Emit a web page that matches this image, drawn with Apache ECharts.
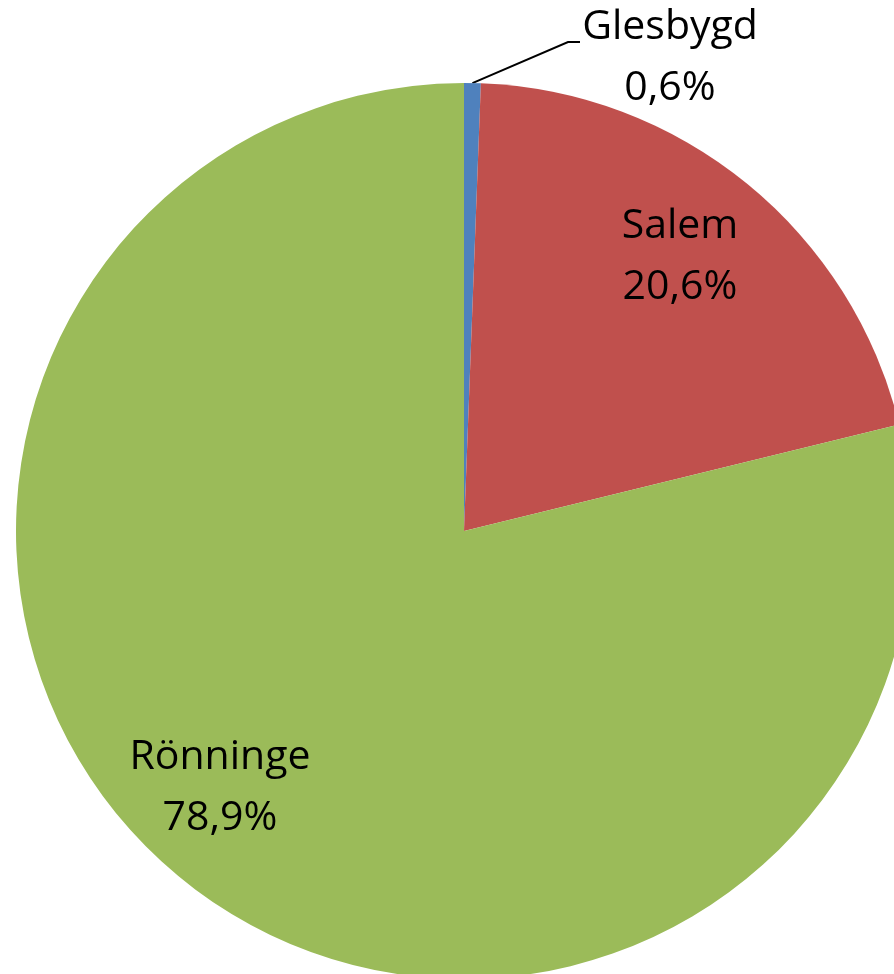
<!DOCTYPE html>
<html>
<head>
<meta charset="utf-8">
<script src="https://cdn.jsdelivr.net/npm/echarts@6/dist/echarts.min.js"></script>
<style>html,body{margin:0;padding:0;background:#fff;}#c{width:894px;height:974px;}</style>
</head>
<body>
<div id="c"></div>
<script>
var categories = ['Glesbygd', 'Salem', 'Rönninge'];
var values = [0.6, 20.6, 78.9];
var percentLabels = ['0,6%', '20,6%', '78,9%'];
var colors = ['#4F81BD', '#C0504D', '#9BBB59'];

var cx = 464, cy = 531, R = 448;
// label anchor positions (layout)
var labelPos = [[670, 58], [680, 257], [220, 788]];

var chart = echarts.init(document.getElementById('c'));
var data = categories.map(function (c, i) {
  return {
    name: c,
    value: values[i],
    itemStyle: { color: colors[i] },
    label: { position: i === 0 ? 'outside' : 'inside' },
    labelLine: { show: i === 0 }
  };
});
chart.setOption({
  animation: false,
  series: [{
    type: 'pie',
    center: [cx, cy],
    radius: [0, R],
    startAngle: 90,
    clockwise: true,
    avoidLabelOverlap: false,
    data: data,
    label: {
      show: true,
      color: '#000',
      fontFamily: 'Open Sans',
      fontSize: 41,
      lineHeight: 61,
      align: 'center',
      formatter: function (p) { return p.name + '\n' + percentLabels[p.dataIndex]; }
    },
    labelLine: {
      show: true,
      lineStyle: { color: '#000', width: 2 },
      length: 10, length2: 10, smooth: false
    },
    labelLayout: function (p) {
      var i = p.dataIndex;
      var res = { x: labelPos[i][0], y: labelPos[i][1], align: 'center', verticalAlign: 'middle', hideOverlap: false, moveOverlap: false };
      if (i === 0) {
        var start = p.labelLinePoints ? p.labelLinePoints[0] : [cx, cy - R];
        res.labelLinePoints = [start, [568, 42], [580, 42]];
      }
      return res;
    }
  }]
});
</script>
</body>
</html>
